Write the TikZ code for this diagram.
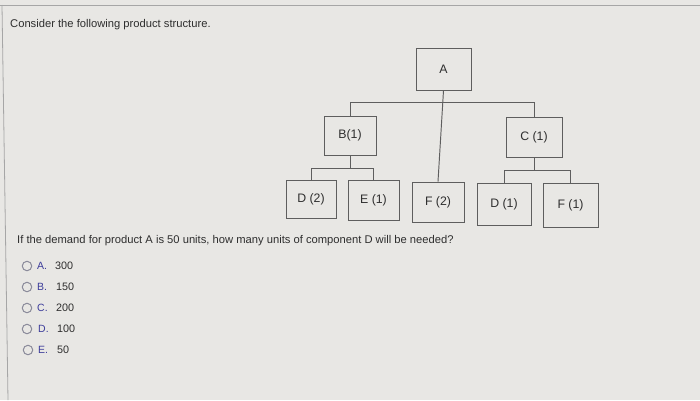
\documentclass[tikz,border=0pt]{standalone}
\usepackage{fontspec}
\setmainfont{Liberation Sans}
\definecolor{bg}{HTML}{E8E7E4}
\definecolor{ink}{HTML}{2E2E2E}
\definecolor{boxline}{HTML}{5E5E5E}
\definecolor{optblue}{HTML}{3C3C9A}
\definecolor{radio}{HTML}{8A8A9A}
\tikzset{
  part/.style={draw=boxline, line width=0.95pt, fill=bg, inner sep=0pt, text=ink, font=\fontsize{12.3}{14}\selectfont},
  link/.style={draw=boxline, line width=0.95pt},
  txt/.style={anchor=west, inner sep=0pt, text=ink, font=\fontsize{11.2}{13}\selectfont},
  radiobtn/.style={draw=radio, line width=1pt, circle, minimum size=9.5pt, inner sep=0pt},
  optletter/.style={anchor=west, inner sep=0pt, text=optblue, font=\fontsize{10.5}{12}\selectfont},
  optval/.style={anchor=west, inner sep=0pt, text=ink, font=\fontsize{10.8}{12}\selectfont}
}
\begin{document}
\begin{tikzpicture}[x=1pt,y=-1pt]
\fill[bg] (0,0) rectangle (700,400);
\useasboundingbox (0,0) rectangle (700,400);
\draw[gray!70, line width=0.8pt] (0,5) -- (700,5);
\draw[gray!70, line width=0.8pt] (2,5) -- (8,400);

\node[txt] (title) at (10,25) {Consider the following product structure.};

\node[part, minimum width=55pt, minimum height=42pt] (A) at (443.5,69) {A};
\node[part, minimum width=52pt, minimum height=39pt] (B) at (350,135.5) {B(1)};
\node[part, minimum width=56pt, minimum height=40pt] (C) at (534,137) {C (1)};
\node[part, minimum width=50pt, minimum height=38pt] (D2) at (311,199) {D (2)};
\node[part, minimum width=51pt, minimum height=40pt] (E1) at (373.5,200) {E (1)};
\node[part, minimum width=52pt, minimum height=40pt] (F2) at (438,202) {F (2)};
\node[part, minimum width=54pt, minimum height=42pt] (D1) at (504,204) {D (1)};
\node[part, minimum width=55pt, minimum height=44pt] (F1) at (570.5,205) {F (1)};

\draw[link] (A.south) -- (F2.north);
\draw[link] (B.north) -- ++(0,-13) coordinate (abar) -| (C.north);
\draw[link] (B.south) -- ++(0,13) coordinate (bj);
\draw[link] (D2.north) |- (bj) -| (E1.north);
\draw[link] (C.south) -- ++(0,13) coordinate (cj);
\draw[link] (D1.north) |- (cj) -| (F1.north);

\node[txt] (question) at (17,241) {If the demand for product A is 50 units, how many units of component D will be needed?};

\node[radiobtn] (ra) at (27,266) {};
\node[optletter] (la) at (37,266) {A.};
\node[optval] (va) at (55,266) {300};
\node[radiobtn] (rb) at (27,287) {};
\node[optletter] (lb) at (37,287) {B.};
\node[optval] (vb) at (56,287) {150};
\node[radiobtn] (rc) at (27,308) {};
\node[optletter] (lc) at (37,308) {C.};
\node[optval] (vc) at (56,308) {200};
\node[radiobtn] (rd) at (27,329) {};
\node[optletter] (ld) at (38,329) {D.};
\node[optval] (vd) at (57,329) {100};
\node[radiobtn] (re) at (28,350) {};
\node[optletter] (le) at (38,350) {E.};
\node[optval] (ve) at (57,350) {50};
\end{tikzpicture}
\end{document}
